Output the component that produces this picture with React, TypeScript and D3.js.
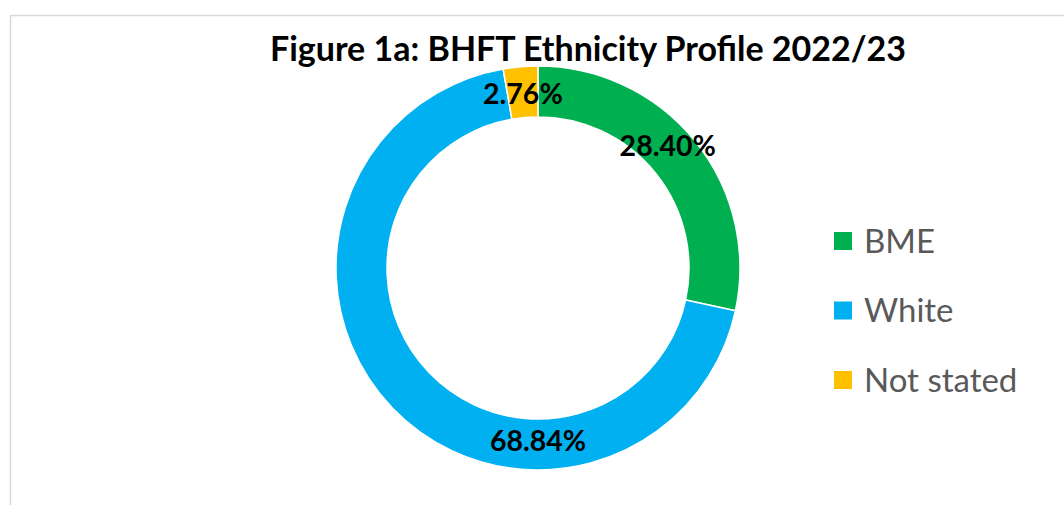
import React from "react";
import * as d3 from "d3";

const categories = ["BME", "White", "Not stated"];
const values = [28.4, 68.84, 2.76];
const labels = ["28.40%", "68.84%", "2.76%"];
const colors = ["#00B050", "#00B0F0", "#FFC000"];

const W = 1064;
const H = 505;

const App = () => {
  const cx = 538;
  const cy = 268;
  const outerR = 202;
  const innerR = 151;

  const pie = d3.pie<number>().sort(null).value((d) => d);
  const arcs = pie(values);
  const arc = d3.arc<d3.PieArcDatum<number>>().innerRadius(innerR).outerRadius(outerR);
  const midR = (innerR + outerR) / 2;

  // Excel nudges labels: the big slice's label sits at the bottom of the ring
  const labelPos = (a: d3.PieArcDatum<number>, i: number) => {
    let ang = (a.startAngle + a.endAngle) / 2;
    let r = midR - 2;
    if (i === 1) {
      ang = Math.PI;
      r = midR - 4;
    } else if (i === 0) {
      ang -= (4.5 * Math.PI) / 180;
      r = midR + 2;
    }
    return [r * Math.sin(ang), -r * Math.cos(ang)];
  };

  const legendY = d3.scalePoint<string>().domain(categories).range([241, 380]);

  return (
    <div style={{ position: "absolute", left: 0, top: 0 }}>
      <svg width={W} height={H} style={{ display: "block", background: "#fff" }}>
        {/* chart border */}
        <path d={`M10.5,${H} V15.5 H${W}`} fill="none" stroke="#d9d9d9" strokeWidth={1.5} />

        <text
          x={588}
          y={61}
          textAnchor="middle"
          fontFamily="Lato, 'Open Sans', sans-serif"
          fontWeight="bold"
          fontSize={34}
          fill="#000"
        >
          Figure 1a: BHFT Ethnicity Profile 2022/23
        </text>

        <g transform={`translate(${cx},${cy})`}>
          {arcs.map((a, i) => (
            <path key={i} d={arc(a) || ""} fill={colors[i]} stroke="#fff" strokeWidth={1.5} />
          ))}
          {arcs.map((a, i) => {
            const [x, y] = labelPos(a, i);
            return (
              <text
                key={i}
                x={x}
                y={y}
                dy="0.36em"
                textAnchor="middle"
                fontFamily="Lato, 'Open Sans', sans-serif"
                fontWeight="bold"
                fontSize={28.5}
                fill="#000"
              >
                {labels[i]}
              </text>
            );
          })}
        </g>

        <g>
          {categories.map((c, i) => (
            <g key={c} transform={`translate(834,${legendY(c)})`}>
              <rect x={0} y={-9} width={18} height={18} fill={colors[i]} />
              <text
                x={30}
                y={0}
                dy="0.36em"
                fontFamily="Lato, 'Open Sans', sans-serif"
                fontSize={33}
                fill="#595959"
              >
                {c}
              </text>
            </g>
          ))}
        </g>
      </svg>
    </div>
  );
};

export default App;
